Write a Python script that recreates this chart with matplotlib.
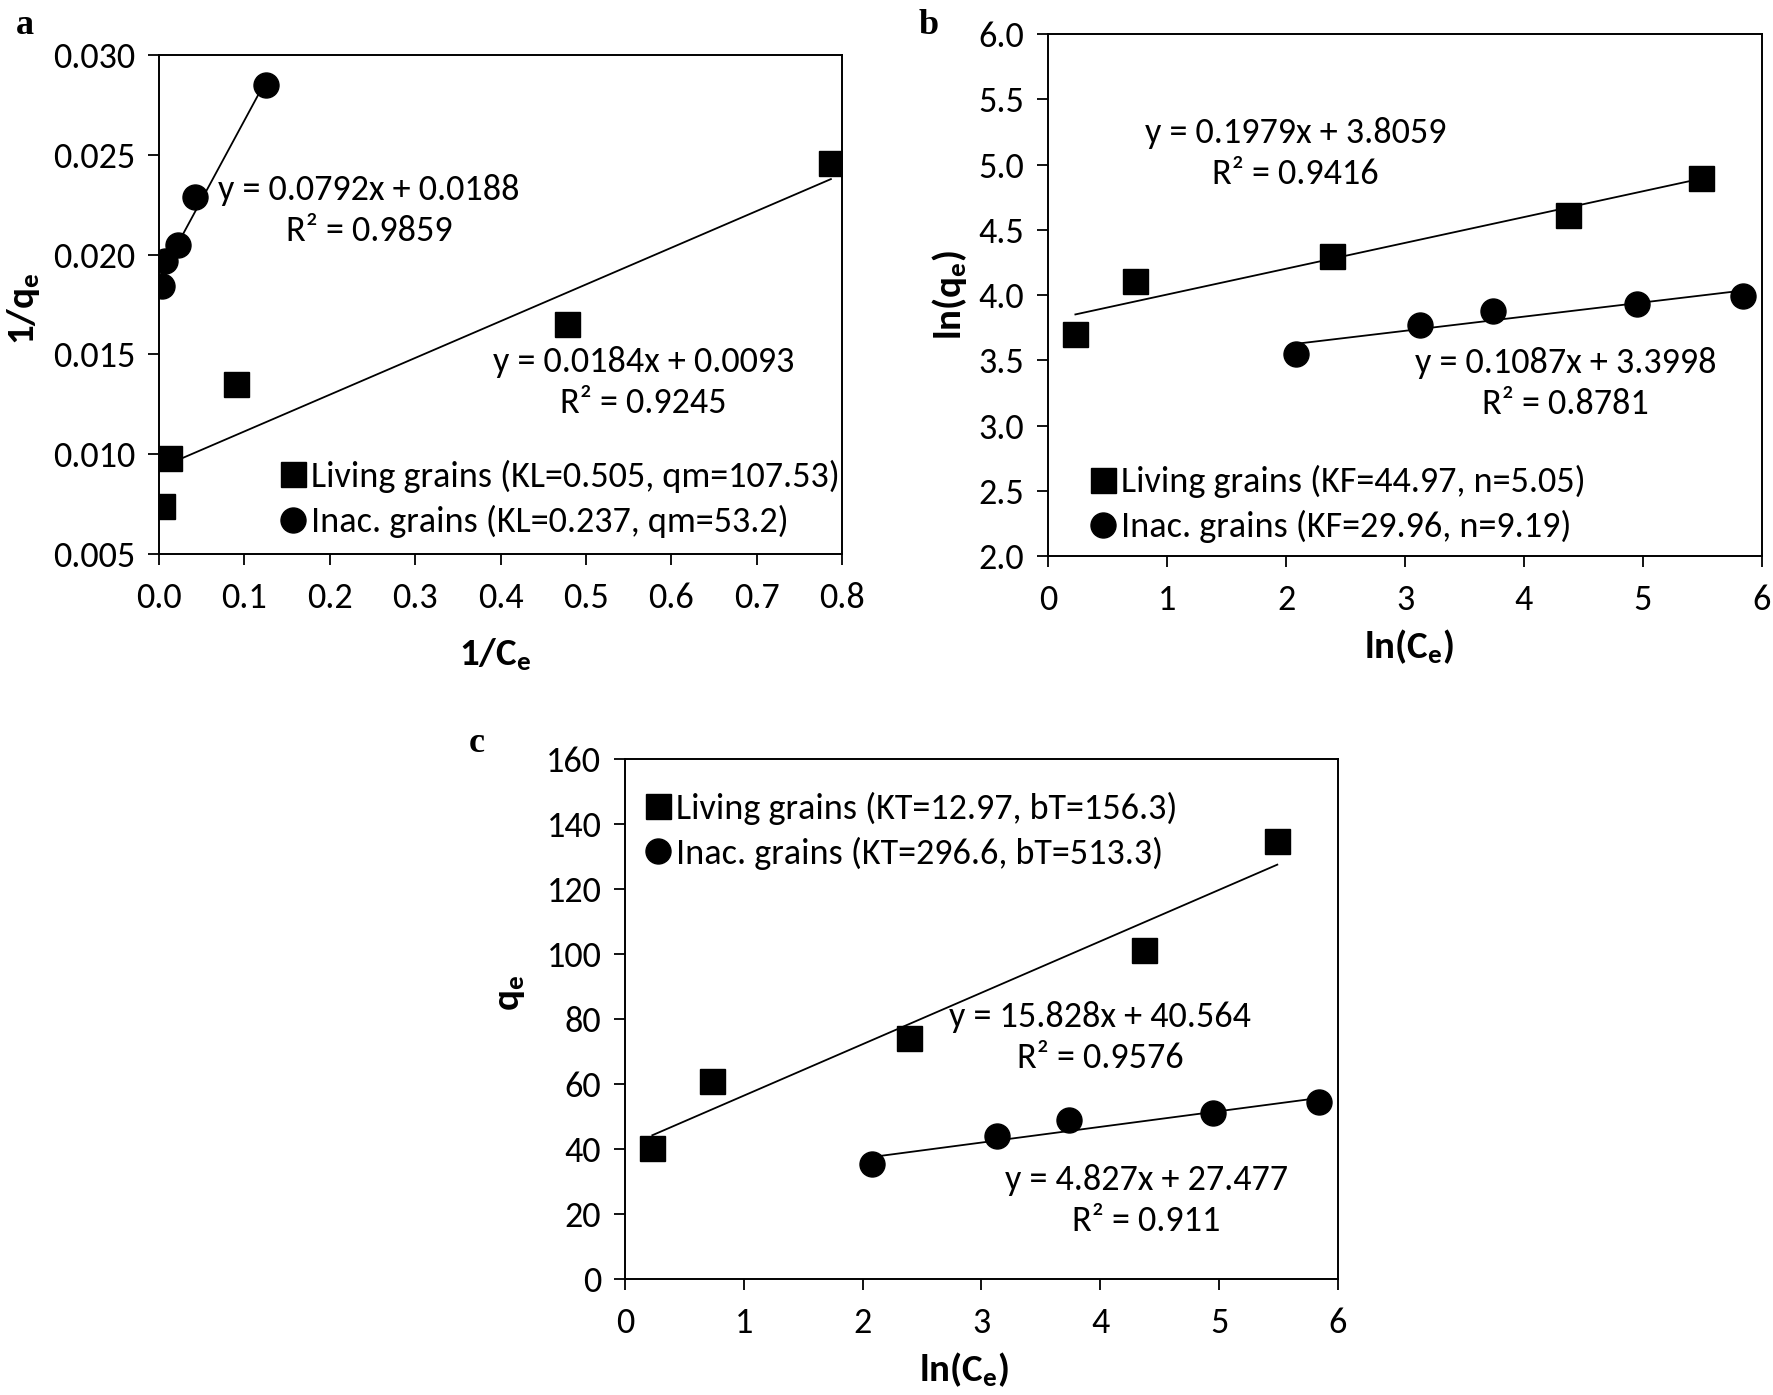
import matplotlib
matplotlib.use('Agg')
import matplotlib.pyplot as plt
from matplotlib import font_manager
import numpy as np

# pick the narrowest Calibri-like family that is installed, with a size that keeps text widths
names = {f.name for f in font_manager.fontManager.ttflist}
FONT, FS = 'DejaVu Sans', 20
for cand, size in [('Carlito', 26), ('Liberation Sans Narrow', 27), ('Roboto Condensed', 26),
                   ('DejaVu Sans Condensed', 22.5), ('Liberation Sans', 23), ('Roboto', 23)]:
    if cand in names:
        FONT, FS = cand, size
        break
FS_LAB = FS * 28 / 26.0

plt.rcParams['font.family'] = [FONT, 'DejaVu Sans']
plt.rcParams['mathtext.fontset'] = 'custom'
plt.rcParams['mathtext.rm'] = FONT
plt.rcParams['mathtext.bf'] = FONT + ':bold'

# panel a: Langmuir (1/Ce vs 1/qe)
a_living_x = [0.004, 0.012, 0.090, 0.478, 0.787]
a_living_y = [0.0074, 0.0098, 0.0135, 0.0165, 0.0246]
a_inac_x = [0.003, 0.007, 0.022, 0.042, 0.125]
a_inac_y = [0.0184, 0.0197, 0.0205, 0.0229, 0.0285]
a_fit_living = (0.0184, 0.0093)
a_fit_inac = (0.0792, 0.0188)

# panel b: Freundlich (ln Ce vs ln qe)
lnce_living = [0.23, 0.73, 2.39, 4.37, 5.49]
lnce_inac = [2.08, 3.13, 3.74, 4.95, 5.84]
b_living_y = [3.70, 4.11, 4.30, 4.61, 4.90]
b_inac_y = [3.55, 3.77, 3.88, 3.93, 3.99]
b_fit_living = (0.1979, 3.8059)
b_fit_inac = (0.1087, 3.3998)

# panel c: Temkin (ln Ce vs qe)
c_living_y = [40.2, 60.8, 74.2, 101.3, 134.6]
c_inac_y = [35.3, 43.9, 48.8, 51.1, 54.3]
c_fit_living = (15.828, 40.564)
c_fit_inac = (4.827, 27.477)

FS_PX = FS * 100 / 72.0
LSPACE = 48.0 / FS_PX - 1.0


def draw_panel(ax, xl, yl, xi, yi, fit_l, fit_i, labels, eqs):
    ax.plot(xl, yl, 's', color='black', ms=18, label=labels[0], zorder=3)
    ax.plot(xi, yi, 'o', color='black', ms=18, label=labels[1], zorder=3)
    xs = np.array([min(xl), max(xl)])
    ax.plot(xs, fit_l[0] * xs + fit_l[1], color='black', lw=1.3)
    xs = np.array([min(xi), max(xi)])
    ax.plot(xs, fit_i[0] * xs + fit_i[1], color='black', lw=1.3)
    for (x, y, txt) in eqs:
        ax.text(x, y, txt, ha='center', va='center', fontsize=FS,
                linespacing=1.35, multialignment='center')
    ax.tick_params(direction='out', length=8, width=1.3, labelsize=FS,
                   top=False, right=False)
    ax.tick_params(axis='x', pad=12)
    ax.tick_params(axis='y', pad=9)
    for s in ax.spines.values():
        s.set_linewidth(1.4)


def add_legend(ax, x, y):
    ax.legend(loc='center left', bbox_to_anchor=(x, y), frameon=False, fontsize=FS,
              borderpad=0, borderaxespad=0, handlelength=0.7, handletextpad=0.15,
              labelspacing=LSPACE, numpoints=1)


fig = plt.figure(figsize=(17.73, 13.95), dpi=100)

# a
ax = fig.add_axes([0.0897, 0.6029, 0.3852, 0.3577])
draw_panel(ax, a_living_x, a_living_y, a_inac_x, a_inac_y, a_fit_living, a_fit_inac,
           ['Living grains (KL=0.505, qm=107.53)', 'Inac. grains (KL=0.237, qm=53.2)'],
           [(0.246, 0.0222, 'y = 0.0792x + 0.0188\nR² = 0.9859'),
            (0.5675, 0.0136, 'y = 0.0184x + 0.0093\nR² = 0.9245')])
ax.set_xlim(0, 0.8)
ax.set_ylim(0.005, 0.030)
ax.set_xticks(np.arange(0, 0.81, 0.1))
ax.set_yticks(np.arange(0.005, 0.0301, 0.005))
ax.xaxis.set_major_formatter(matplotlib.ticker.FormatStrFormatter('%.1f'))
ax.yaxis.set_major_formatter(matplotlib.ticker.FormatStrFormatter('%.3f'))
ax.set_xlabel(r'$\mathbf{1/C_e}$', fontsize=FS_LAB)
ax.set_ylabel(r'$\mathbf{1/q_e}$', fontsize=FS_LAB)
ax.xaxis.set_label_coords(0.492, -0.166)
ax.yaxis.set_label_coords(-0.171, 0.492)
add_legend(ax, 0.177, 0.110)

# b
ax = fig.add_axes([0.5911, 0.6014, 0.4027, 0.3742])
draw_panel(ax, lnce_living, b_living_y, lnce_inac, b_inac_y, b_fit_living, b_fit_inac,
           ['Living grains (KF=44.97, n=5.05)', 'Inac. grains (KF=29.96, n=9.19)'],
           [(2.08, 5.085, 'y = 0.1979x + 3.8059\nR² = 0.9416'),
            (4.35, 3.32, 'y = 0.1087x + 3.3998\nR² = 0.8781')])
ax.set_xlim(0, 6)
ax.set_ylim(2.0, 6.0)
ax.set_xticks(np.arange(0, 7, 1))
ax.set_yticks(np.arange(2.0, 6.01, 0.5))
ax.yaxis.set_major_formatter(matplotlib.ticker.FormatStrFormatter('%.1f'))
ax.set_xlabel(r'$\mathbf{ln(C_e)}$', fontsize=FS_LAB)
ax.set_ylabel(r'$\mathbf{ln(q_e)}$', fontsize=FS_LAB)
ax.xaxis.set_label_coords(0.505, -0.136)
ax.yaxis.set_label_coords(-0.111, 0.50)
add_legend(ax, 0.059, 0.099)

# c
ax = fig.add_axes([0.3525, 0.0832, 0.4021, 0.3728])
draw_panel(ax, lnce_living, c_living_y, lnce_inac, c_inac_y, c_fit_living, c_fit_inac,
           ['Living grains (KT=12.97, bT=156.3)', 'Inac. grains (KT=296.6, bT=513.3)'],
           [(4.0, 74.4, 'y = 15.828x + 40.564\nR² = 0.9576'),
            (4.386, 24.1, 'y = 4.827x + 27.477\nR² = 0.911')])
ax.set_xlim(0, 6)
ax.set_ylim(0, 160)
ax.set_xticks(np.arange(0, 7, 1))
ax.set_yticks(np.arange(0, 161, 20))
ax.set_xlabel(r'$\mathbf{ln(C_e)}$', fontsize=FS_LAB)
ax.set_ylabel(r'$\mathbf{q_e}$', fontsize=FS_LAB)
ax.xaxis.set_label_coords(0.476, -0.138)
ax.yaxis.set_label_coords(-0.137, 0.55)
add_legend(ax, 0.028, 0.8615)

for x, y, t in [(0.014, 0.982, 'a'), (0.524, 0.982, 'b'), (0.269, 0.467, 'c')]:
    fig.text(x, y, t, fontsize=26, fontweight='bold', family='Liberation Serif',
             ha='center', va='center')

fig.savefig('out.png', dpi=100)
